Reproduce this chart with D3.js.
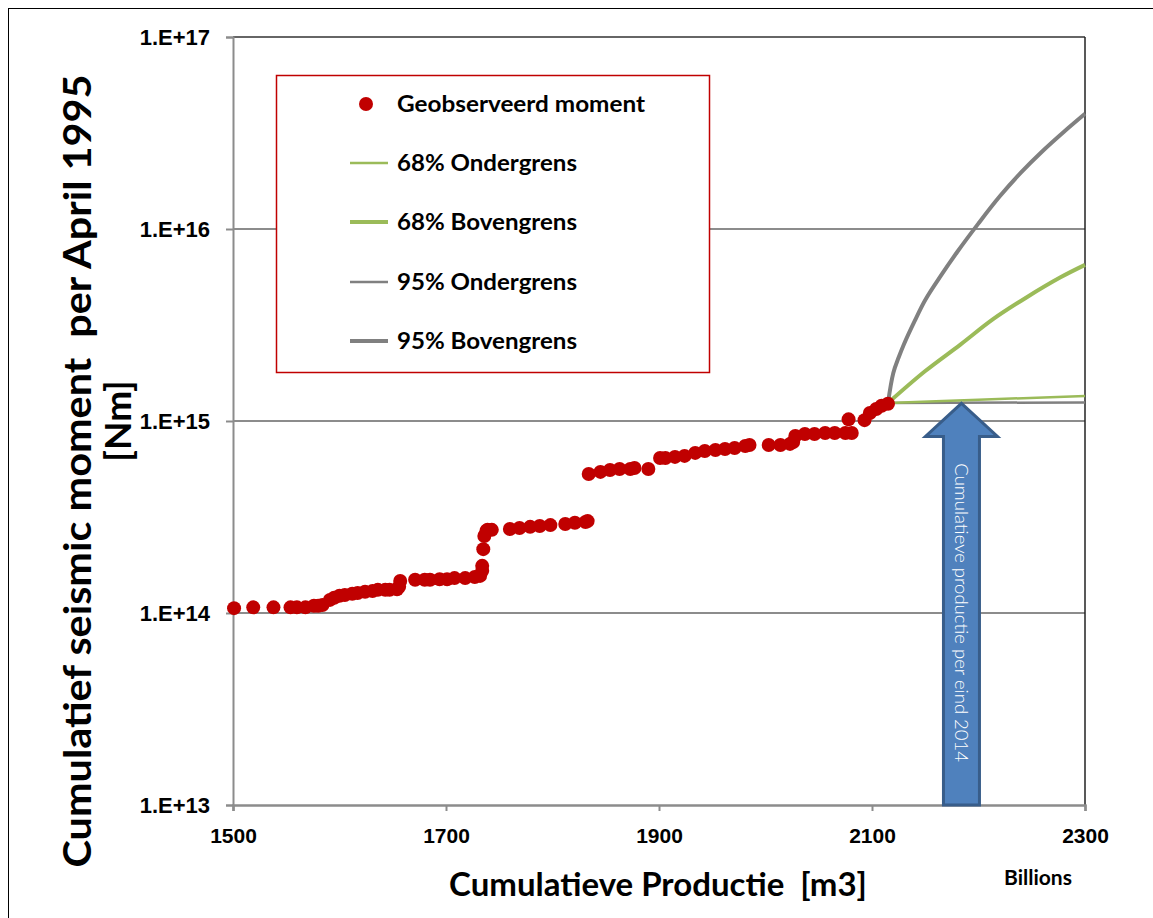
<!DOCTYPE html>
<html><head><meta charset="utf-8">
<script src="https://cdn.jsdelivr.net/npm/d3@7"></script>
<style>body{margin:0;background:#fff;}svg{display:block;font-family:Lato,"Open Sans",sans-serif;}</style>
</head><body>
<script>
// Observed cumulative seismic moment (x in billions m3, y in Nm)
const obsX = [1501,1519,1538,1554,1560,1568,1576,1580,1584,1591,1595,1600,1605,1612,1617,1624,1631,1636,1643,1647,1654,1656,1657,
  1671,1680,1685,1694,1701,1708,1718,1727,1732,1734,1734,1735,1736,1738,1739,1743,1760,1769,1779,1788,1798,1812,1821,1831,1833,
  1834,1845,1854,1863,1873,1877,1890,1901,1906,1915,1924,1934,1943,1953,1962,1971,1981,1985,2003,2014,2023,2026,2028,2037,2046,2056,2065,2075,2081,
  2078,2093,2098,2104,2109,2115];
const obsY = [1.06e14,1.07e14,1.07e14,1.07e14,1.07e14,1.07e14,1.09e14,1.09e14,1.10e14,1.17e14,1.20e14,1.23e14,1.24e14,1.26e14,1.27e14,1.29e14,1.30e14,1.32e14,1.32e14,1.32e14,1.33e14,1.37e14,1.47e14,
  1.49e14,1.49e14,1.49e14,1.50e14,1.50e14,1.52e14,1.52e14,1.54e14,1.56e14,1.66e14,1.76e14,2.15e14,2.52e14,2.68e14,2.71e14,2.71e14,2.74e14,2.77e14,2.81e14,2.84e14,2.87e14,2.91e14,2.95e14,2.98e14,3.01e14,
  5.30e14,5.43e14,5.56e14,5.62e14,5.62e14,5.69e14,5.62e14,6.42e14,6.42e14,6.50e14,6.58e14,6.82e14,6.98e14,7.06e14,7.15e14,7.23e14,7.41e14,7.50e14,7.50e14,7.50e14,7.60e14,7.77e14,8.35e14,8.56e14,8.56e14,8.66e14,8.66e14,8.66e14,8.66e14,
  1.02e15,1.01e15,1.10e15,1.155e15,1.20e15,1.23e15];

// Projection bounds
const lo68X = [2115, 2200, 2300];
const lo68Y = [1.24e15, 1.29e15, 1.35e15];
const hi68X = [2115, 2150, 2183, 2214, 2245, 2277, 2300];
const hi68Y = [1.24e15, 1.82e15, 2.5e15, 3.4e15, 4.4e15, 5.6e15, 6.5e15];
const lo95X = [2115, 2300];
const lo95Y = [1.24e15, 1.25e15];
const hi95X = [2115, 2120, 2125, 2130, 2140, 2150, 2165, 2180, 2200, 2220, 2240, 2260, 2280, 2300];
const hi95Y = [1.24e15, 1.78e15, 2.14e15, 2.51e15, 3.31e15, 4.27e15, 5.75e15, 7.59e15, 1.07e16, 1.48e16, 1.97e16, 2.54e16, 3.2e16, 3.98e16];

const xTicks = [1500, 1700, 1900, 2100, 2300];
const yTicks = [1e13, 1e14, 1e15, 1e16, 1e17];
const yTickLabels = ["1.E+13", "1.E+14", "1.E+15", "1.E+16", "1.E+17"];
const legendLabels = ["Geobserveerd moment", "68% Ondergrens", "68% Bovengrens", "95% Ondergrens", "95% Bovengrens"];
const arrowX = 2184, arrowTipY = 1.25e15;

const W = 1153, H = 918;
const svg = d3.select("body").append("svg").attr("width", W).attr("height", H);
const L = 233, R = 1085, T = 37, B = 805;
const x = d3.scaleLinear().domain([1500, 2300]).range([L, R]);
const y = d3.scaleLog().domain([1e13, 1e17]).range([B, T]);

// outer border
svg.append("rect").attr("x", 8.5).attr("y", 8.5).attr("width", 1150).attr("height", 920)
  .attr("fill", "none").attr("stroke", "#000").attr("stroke-width", 1);

// gridlines
svg.append("g").selectAll("line").data(yTicks.slice(1, 4)).join("line")
  .attr("x1", L).attr("x2", R).attr("y1", d => y(d)).attr("y2", d => y(d))
  .attr("stroke", "#8c8c8c").attr("stroke-width", 2);

// plot frame top/right
svg.append("line").attr("x1", L).attr("x2", R).attr("y1", T).attr("y2", T).attr("stroke", "#333").attr("stroke-width", 1.5);
svg.append("line").attr("x1", R).attr("x2", R).attr("y1", T).attr("y2", B).attr("stroke", "#222").attr("stroke-width", 1.5);

// axes
const yAxis = d3.axisLeft(y).tickValues(yTicks).tickFormat((d, i) => yTickLabels[i]).tickSize(7).tickPadding(16);
const gy = svg.append("g").attr("transform", `translate(${L},0)`).call(yAxis);
gy.select(".domain").attr("stroke", "#8c8c8c").attr("stroke-width", 2);
gy.selectAll(".tick line").attr("stroke", "#8c8c8c").attr("stroke-width", 2);
gy.selectAll("text").attr("font-size", 22).attr("font-weight", "bold").attr("fill", "#000").attr("dy", "0.35em");

const xAxis = d3.axisBottom(x).tickValues(xTicks).tickFormat(d3.format("d")).tickSize(6).tickPadding(17);
const gx = svg.append("g").attr("transform", `translate(0,${B})`).call(xAxis);
gx.select(".domain").attr("stroke", "#8c8c8c").attr("stroke-width", 2.5);
gx.selectAll(".tick line").attr("stroke", "#8c8c8c").attr("stroke-width", 2);
gx.selectAll("text").attr("font-size", 21).attr("font-weight", "bold").attr("fill", "#000");

// lines
const line = d3.line().x(d => x(d[0])).y(d => y(d[1])).curve(d3.curveCatmullRom.alpha(0.5));
const series = [
  {xs: lo95X, ys: lo95Y, color: "#808080", w: 2.5},
  {xs: lo68X, ys: lo68Y, color: "#9bbb59", w: 2.5},
  {xs: hi68X, ys: hi68Y, color: "#9bbb59", w: 4},
  {xs: hi95X, ys: hi95Y, color: "#808080", w: 4}
];
series.forEach(s => {
  svg.append("path").datum(s.xs.map((v, i) => [v, s.ys[i]]))
    .attr("d", line).attr("fill", "none").attr("stroke", s.color).attr("stroke-width", s.w);
});

// observed points
svg.append("g").selectAll("circle").data(obsX.map((v, i) => [v, obsY[i]])).join("circle")
  .attr("cx", d => x(d[0])).attr("cy", d => y(d[1])).attr("r", 7).attr("fill", "#c00000");

// arrow annotation
const ax = x(arrowX), tipY = y(arrowTipY) + 1;
const shaftHalf = 18, headHalf = 36, headH = 33;
const arrowPts = [[ax, tipY], [ax + headHalf, tipY + headH], [ax + shaftHalf, tipY + headH], [ax + shaftHalf, B],
  [ax - shaftHalf, B], [ax - shaftHalf, tipY + headH], [ax - headHalf, tipY + headH]];
svg.append("polygon").attr("points", arrowPts.map(p => p.join(",")).join(" "))
  .attr("fill", "#4f81bd").attr("stroke", "#385d8a").attr("stroke-width", 3).attr("stroke-linejoin", "miter");
svg.append("text").attr("transform", `translate(${ax - 6},${(tipY + headH + B) / 2 - 8}) rotate(90)`)
  .attr("text-anchor", "middle").attr("font-size", 18.5).attr("fill", "#fff").attr("font-weight", 300)
  .text("Cumulatieve productie per eind 2014");

// legend
const lg = svg.append("g");
lg.append("rect").attr("x", 276.5).attr("y", 75.5).attr("width", 433).attr("height", 297)
  .attr("fill", "#fff").attr("stroke", "#c00000").attr("stroke-width", 1.5);
const legY = [104, 163, 222, 282, 341];
const legLen = [248, 180, 180, 180, 180];
const legStyle = [null, {c: "#9bbb59", w: 2.5}, {c: "#9bbb59", w: 4}, {c: "#808080", w: 2.5}, {c: "#808080", w: 4}];
legendLabels.forEach((lab, i) => {
  if (i === 0) {
    lg.append("circle").attr("cx", 366).attr("cy", legY[i]).attr("r", 7).attr("fill", "#c00000");
  } else {
    lg.append("line").attr("x1", 350).attr("x2", 388).attr("y1", legY[i]).attr("y2", legY[i])
      .attr("stroke", legStyle[i].c).attr("stroke-width", legStyle[i].w);
  }
  lg.append("text").attr("x", 397).attr("y", legY[i]).attr("dy", "0.35em")
    .attr("font-size", 22).attr("font-weight", "bold").attr("textLength", legLen[i]).attr("lengthAdjust", "spacingAndGlyphs").text(lab);
});

// axis titles
svg.append("text").attr("transform", "translate(78,471) rotate(-90)").attr("text-anchor", "middle")
  .attr("dy", "0.35em").attr("font-size", 38).attr("font-weight", "bold").attr("xml:space", "preserve")
  .attr("textLength", 793).attr("lengthAdjust", "spacingAndGlyphs")
  .text("Cumulatief seismic moment  per April 1995");
svg.append("text").attr("transform", "translate(118,421) rotate(-90)").attr("text-anchor", "middle")
  .attr("dy", "0.35em").attr("font-size", 37).attr("font-weight", "bold").text("[Nm]");
svg.append("text").attr("x", 658).attr("y", 884).attr("text-anchor", "middle").attr("dy", "0.35em")
  .attr("font-size", 33).attr("font-weight", "bold").attr("xml:space", "preserve").text("Cumulatieve Productie  [m3]");
svg.append("text").attr("x", 1038).attr("y", 878).attr("text-anchor", "middle").attr("dy", "0.35em")
  .attr("font-size", 21).attr("font-weight", "bold").text("Billions");
</script>
</body></html>
